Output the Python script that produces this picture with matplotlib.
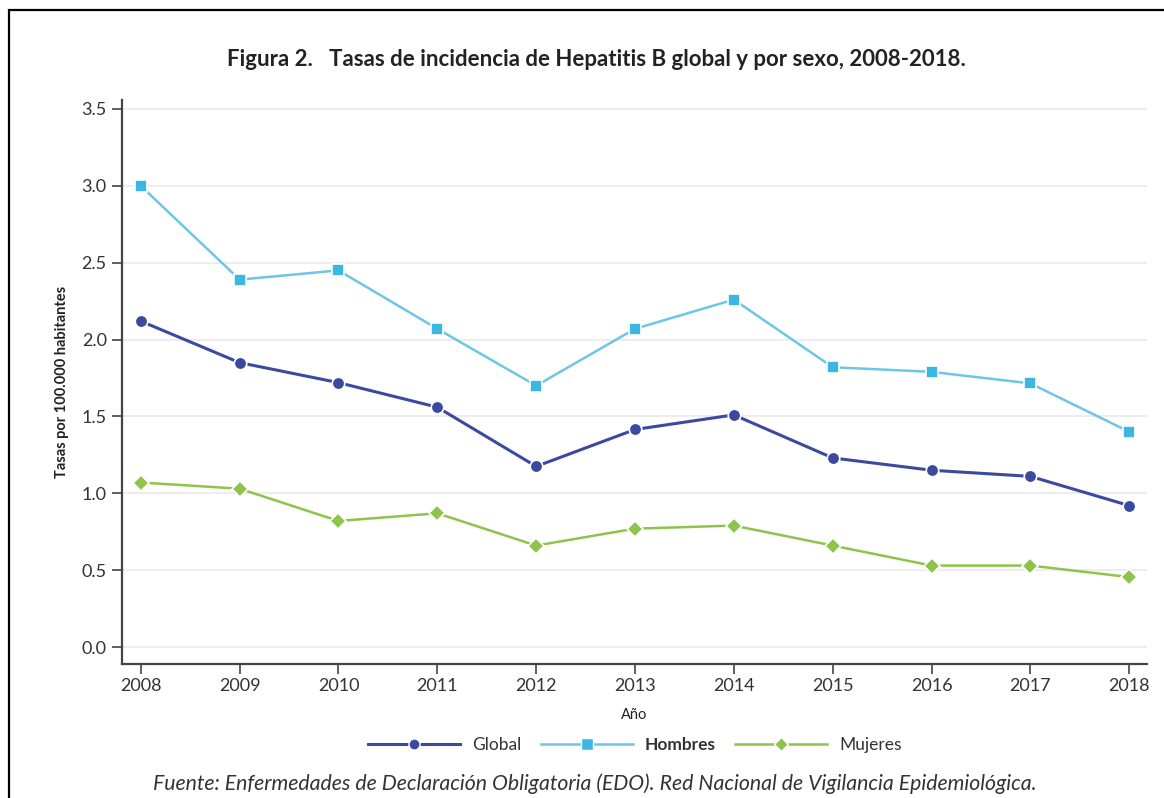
import matplotlib
matplotlib.use("Agg")
import matplotlib.pyplot as plt
from matplotlib.patches import Rectangle
from matplotlib.lines import Line2D

plt.rcParams['font.family'] = ['Lato', 'DejaVu Sans']

years = [2008, 2009, 2010, 2011, 2012, 2013, 2014, 2015, 2016, 2017, 2018]
global_rate = [2.12, 1.85, 1.72, 1.56, 1.175, 1.415, 1.51, 1.23, 1.15, 1.11, 0.92]
hombres = [3.00, 2.39, 2.45, 2.07, 1.70, 2.07, 2.26, 1.82, 1.79, 1.715, 1.40]
mujeres = [1.07, 1.03, 0.82, 0.87, 0.66, 0.77, 0.79, 0.66, 0.53, 0.53, 0.455]
yticks = [0.0, 0.5, 1.0, 1.5, 2.0, 2.5, 3.0, 3.5]

c_global = '#3a4a9e'
c_hom_line = '#6cc6e4'
c_hom_mark = '#3cb7e2'
c_muj = '#8dc44a'

fig = plt.figure(figsize=(11.64, 7.98), dpi=100)
# black frame around the figure (left and top visible)
fig.patches.append(Rectangle((9 / 1164, -0.05), 1.2, 1 - 10 / 798 + 0.05,
                             transform=fig.transFigure, fill=False,
                             edgecolor='black', linewidth=1.6))

ax = fig.add_axes([0.1048, 0.168, 0.8806, 0.707])

for v in yticks:
    ax.axhline(v, color='#ececec', linewidth=1.3, zorder=0)

ax.plot(years, global_rate, color=c_global, linewidth=2.2, marker='o',
        markersize=9, markerfacecolor=c_global, markeredgecolor='white',
        markeredgewidth=1.2, zorder=3)
ax.plot(years, hombres, color=c_hom_line, linewidth=1.8, marker='s',
        markersize=9, markerfacecolor=c_hom_mark, markeredgecolor='white',
        markeredgewidth=1.2, zorder=3)
ax.plot(years, mujeres, color=c_muj, linewidth=1.8, marker='D',
        markersize=8, markerfacecolor=c_muj, markeredgecolor='white',
        markeredgewidth=1.2, zorder=3)

ax.set_xlim(2007.81, 2018.18)
ax.set_ylim(-0.11, 3.56)
ax.set_xticks(years)
ax.set_yticks(yticks)
ax.set_yticklabels([f'{v:.1f}' for v in yticks])

for s in ['top', 'right']:
    ax.spines[s].set_visible(False)
for s in ['left', 'bottom']:
    ax.spines[s].set_color('#444444')
    ax.spines[s].set_linewidth(1.6)
ax.tick_params(axis='both', colors='#444444', labelcolor='#333333',
               labelsize=13, length=7, width=1.2, direction='out')
ax.tick_params(axis='y', pad=4)
ax.tick_params(axis='x', pad=3)

ax.set_ylabel('Tasas por 100.000 habitantes', fontsize=10.5, fontweight='bold',
              color='#222222', labelpad=9)
ax.set_xlabel('Año', fontsize=10.5, color='#222222', labelpad=10)

fig.text(596 / 1164, 1 - 60 / 798, 'Figura 2.   Tasas de incidencia de Hepatitis B global y por sexo, 2008-2018.',
         ha='center', va='center', fontsize=16, fontweight='bold', color='#222222')

handles = [
    Line2D([], [], color=c_global, linewidth=2.2, marker='o', markersize=8,
           markerfacecolor=c_global, markeredgecolor='white'),
    Line2D([], [], color=c_hom_line, linewidth=1.8, marker='s', markersize=8,
           markerfacecolor=c_hom_mark, markeredgecolor='white'),
    Line2D([], [], color=c_muj, linewidth=1.8, marker='D', markersize=7,
           markerfacecolor=c_muj, markeredgecolor='white'),
]
leg = fig.legend(handles, ['Global', 'Hombres', 'Mujeres'], loc='center',
                 bbox_to_anchor=(635 / 1164, 1 - 745 / 798), ncol=3,
                 frameon=False, fontsize=12.5, handlelength=5.3,
                 columnspacing=1.1, handletextpad=0.7)
for t in leg.get_texts():
    t.set_color('#333333')
leg.get_texts()[1].set_fontweight('bold')

fig.text(595 / 1164, 1 - 784 / 798,
         'Fuente: Enfermedades de Declaración Obligatoria (EDO). Red Nacional de Vigilancia Epidemiológica.',
         ha='center', va='center', fontsize=15.3, style='italic', color='#333333')

fig.savefig('out.png', dpi=100, facecolor='white')
